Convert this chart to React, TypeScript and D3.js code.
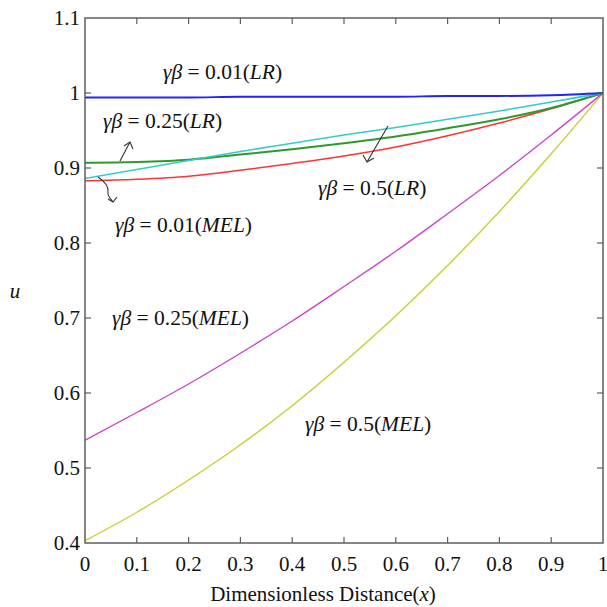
import React from "react";
import * as d3 from "d3";

const xs = [0, 0.1, 0.2, 0.3, 0.4, 0.5, 0.6, 0.7, 0.8, 0.9, 1];
const blueLR001 = [0.994, 0.994, 0.994, 0.995, 0.995, 0.995, 0.995, 0.996, 0.996, 0.997, 1.0];
const greenS = [0.907, 0.908, 0.911, 0.918, 0.925, 0.933, 0.942, 0.953, 0.965, 0.98, 1.0];
const cyanS = [0.886, 0.898, 0.91, 0.922, 0.933, 0.944, 0.954, 0.965, 0.976, 0.988, 1.0];
const redS = [0.883, 0.885, 0.889, 0.897, 0.906, 0.916, 0.928, 0.943, 0.96, 0.979, 1.0];
const magentaMEL025 = [0.537, 0.574, 0.612, 0.653, 0.696, 0.742, 0.789, 0.839, 0.89, 0.944, 1.0];
const yellowMEL05 = [0.403, 0.441, 0.484, 0.531, 0.583, 0.641, 0.703, 0.77, 0.842, 0.919, 1.0];

const xTicks = [0, 0.1, 0.2, 0.3, 0.4, 0.5, 0.6, 0.7, 0.8, 0.9, 1];
const xTickLabels = ["0", "0.1", "0.2", "0.3", "0.4", "0.5", "0.6", "0.7", "0.8", "0.9", "1"];
const yTicks = [0.4, 0.5, 0.6, 0.7, 0.8, 0.9, 1.0, 1.1];
const yTickLabels = ["0.4", "0.5", "0.6", "0.7", "0.8", "0.9", "1", "1.1"];

const series = [
  { values: yellowMEL05, color: "#cccc33", w: 1.4 },
  { values: magentaMEL025, color: "#cc44cc", w: 1.4 },
  { values: redS, color: "#ff3333", w: 1.6 },
  { values: greenS, color: "#2e9a2e", w: 2.0 },
  { values: cyanS, color: "#33cccc", w: 1.6 },
  { values: blueLR001, color: "#2222ff", w: 1.8 },
];

const labels = [
  { x: 163, y: 79, num: "0.01", tag: "LR" },
  { x: 103, y: 128, num: "0.25", tag: "LR" },
  { x: 318, y: 195, num: "0.5", tag: "LR" },
  { x: 115, y: 232, num: "0.01", tag: "MEL" },
  { x: 112, y: 325, num: "0.25", tag: "MEL" },
  { x: 305, y: 431, num: "0.5", tag: "MEL" },
];

export default function App() {
  const L = 85, R = 603, T = 18, B = 543;
  const x = d3.scaleLinear().domain([0, 1]).range([L, R]);
  const y = d3.scaleLinear().domain([0.4, 1.1]).range([B, T]);
  const line = d3
    .line<number>()
    .x((_, i) => x(xs[i]))
    .y((d) => y(d))
    .curve(d3.curveMonotoneX);
  const font = "'Liberation Serif', 'Times New Roman', serif";
  const axisColor = "#5f5f5f";
  const tickLen = 6;
  const arrowColor = "#333";

  return (
    <svg
      width={607}
      height={607}
      style={{ position: "fixed", left: 0, top: 0, background: "#fff" }}
      fontFamily={font}
    >
      <rect x={0} y={0} width={607} height={607} fill="#fff" />
      {series.map((s, i) => (
        <path key={i} d={line(s.values) || ""} fill="none" stroke={s.color} strokeWidth={s.w} />
      ))}
      <rect x={L} y={T} width={R - L} height={B - T} fill="none" stroke={axisColor} strokeWidth={1.5} />
      {xTicks.map((t, i) => (
        <g key={"xt" + i}>
          {i > 0 && i < xTicks.length - 1 && (
            <>
              <line x1={x(t)} x2={x(t)} y1={B} y2={B - tickLen} stroke={axisColor} strokeWidth={1.2} />
              <line x1={x(t)} x2={x(t)} y1={T} y2={T + tickLen} stroke={axisColor} strokeWidth={1.2} />
            </>
          )}
          <text x={x(t)} y={B + 28} fontSize={21} textAnchor="middle" fill="#111">
            {xTickLabels[i]}
          </text>
        </g>
      ))}
      {yTicks.map((t, i) => (
        <g key={"yt" + i}>
          {i > 0 && i < yTicks.length - 1 && (
            <>
              <line x1={L} x2={L + tickLen} y1={y(t)} y2={y(t)} stroke={axisColor} strokeWidth={1.2} />
              <line x1={R} x2={R - tickLen} y1={y(t)} y2={y(t)} stroke={axisColor} strokeWidth={1.2} />
            </>
          )}
          <text x={L - 5} y={y(t) + 7} fontSize={21} textAnchor="end" fill="#111">
            {yTickLabels[i]}
          </text>
        </g>
      ))}
      <text x={15} y={298} fontSize={21} fontStyle="italic" textAnchor="middle" fill="#111">
        u
      </text>
      <text x={323} y={601} fontSize={21} textAnchor="middle" fill="#111">
        Dimensionless Distance(<tspan fontStyle="italic">x</tspan>)
      </text>
      {labels.map((lb, i) => (
        <text key={"lb" + i} x={lb.x} y={lb.y} fontSize={21.5} fill="#111">
          <tspan fontStyle="italic">γβ</tspan>
          {" = " + lb.num + "("}
          <tspan fontStyle="italic">{lb.tag}</tspan>
          {")"}
        </text>
      ))}
      <g stroke={arrowColor} strokeWidth={1.1} fill="none">
        <path d="M120,161 L130,142" />
        <path d="M124,146 L130,142 L133,149" />
        <path d="M98,177 C104,181 109,186 108,192 C107,196 111,199 113,202" />
        <path d="M108,199 L113,202 L117,197" />
        <path d="M388,126 L367,162" />
        <path d="M363,155 L367,162 L374,158" />
      </g>
    </svg>
  );
}
